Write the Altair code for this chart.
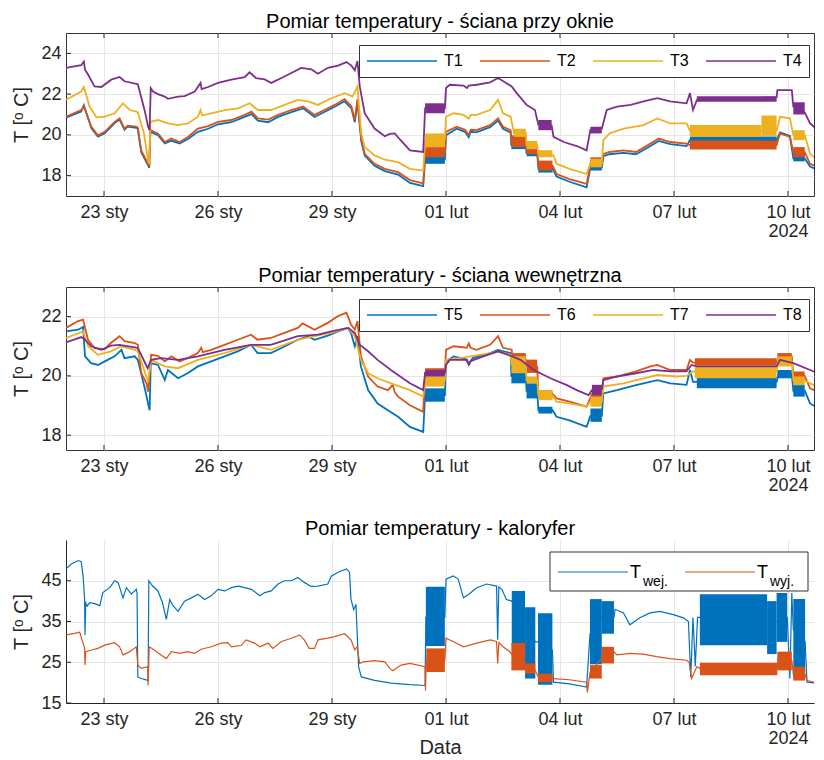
import altair as alt
import pandas as pd

FONT = "Liberation Sans"
TXT = "#262626"
GRID = "#e6e6e6"
BASE = pd.Timestamp("2024-01-22")

# ---------------- categories / colours ----------------
SERIES_1 = ["T1", "T2", "T3", "T4"]
SERIES_2 = ["T5", "T6", "T7", "T8"]
SERIES_3 = ["Twej", "Twyj"]
COLORS_4 = ["#0072BD", "#D95319", "#EDB120", "#7E2F8E"]
COLORS_2 = ["#0072BD", "#D95319"]

TITLES = ["Pomiar temperatury - ściana przy oknie",
          "Pomiar temperatury - ściana wewnętrzna",
          "Pomiar temperatury - kaloryfer"]
X_TICKS = [(1, 23), (1, 26), (1, 29), (2, 1), (2, 4), (2, 7), (2, 10)]
Y_TICKS_1 = [18, 20, 22, 24]
Y_TICKS_2 = [18, 20, 22]
Y_TICKS_3 = [15, 25, 35, 45]
Y_DOM_1 = [17, 25]
Y_DOM_2 = [17.5, 23]
Y_DOM_3 = [15, 55]

# ---------------- data: (days since 22 Jan 2024, value) ----------------
T1 = [(0.00, 20.85), (0.40, 21.15), (0.47, 21.45), (0.67, 20.32), (0.84, 19.92), (1.02, 20.08), (1.28, 20.58),
      (1.41, 20.75), (1.54, 20.25), (1.62, 20.40), (1.85, 20.35), (1.89, 20.30), (1.98, 19.15), (2.16, 18.50),
      (2.19, 18.38), (2.22, 20.15), (2.42, 19.98), (2.60, 19.58), (2.77, 19.72), (2.99, 19.58), (3.21, 19.80),
      (3.47, 20.15), (3.74, 20.30), (4.00, 20.52), (4.35, 20.62), (4.70, 20.88), (4.88, 21.02), (5.05, 20.70),
      (5.32, 20.62), (5.58, 20.88), (5.93, 21.12), (6.24, 21.30), (6.54, 20.88), (6.80, 21.12), (7.07, 21.38),
      (7.33, 21.65), (7.51, 21.30), (7.60, 20.62), (7.67, 21.62), (7.77, 19.70), (7.86, 18.98), (8.12, 18.48),
      (8.39, 18.22), (8.74, 18.05), (9.05, 17.64), (9.40, 17.49), (9.45, 18.80), (9.97, 18.80), (10.00, 19.98),
      (10.28, 20.30), (10.50, 20.15), (10.60, 19.88), (10.65, 20.15), (10.80, 20.12), (11.16, 20.38),
      (11.37, 20.70), (11.50, 20.30), (11.70, 20.12), (11.72, 19.50), (12.10, 19.50), (12.12, 19.10),
      (12.40, 19.10), (12.43, 18.35), (12.80, 18.35), (12.91, 17.95), (13.25, 17.70), (13.70, 17.42),
      (13.80, 18.40), (14.10, 18.40), (14.14, 18.95), (14.30, 19.05), (14.67, 19.12), (15.00, 19.05),
      (15.38, 19.45), (15.60, 19.70), (15.90, 19.55), (16.33, 19.45), (16.42, 19.75), (18.70, 19.75),
      (18.79, 20.12), (19.05, 19.95), (19.14, 18.85), (19.44, 18.85), (19.58, 18.45), (19.90, 18.18)]
T2 = [(0.00, 20.89), (0.40, 21.22), (0.47, 21.39), (0.67, 20.40), (0.84, 19.98), (1.02, 20.15), (1.28, 20.64),
      (1.41, 20.81), (1.54, 20.31), (1.62, 20.45), (1.85, 20.40), (1.89, 20.35), (1.98, 19.24), (2.16, 18.58),
      (2.19, 18.45), (2.22, 20.23), (2.42, 20.07), (2.60, 19.65), (2.77, 19.82), (2.99, 19.65), (3.21, 19.90),
      (3.47, 20.31), (3.74, 20.43), (4.00, 20.64), (4.35, 20.73), (4.70, 20.98), (4.88, 21.14), (5.05, 20.81),
      (5.32, 20.75), (5.58, 20.98), (5.93, 21.22), (6.24, 21.39), (6.54, 20.98), (6.80, 21.22), (7.07, 21.47),
      (7.33, 21.75), (7.51, 21.39), (7.60, 20.73), (7.67, 21.75), (7.77, 19.80), (7.86, 19.07), (8.12, 18.58),
      (8.39, 18.33), (8.74, 18.17), (9.05, 17.78), (9.40, 17.62), (9.45, 19.15), (9.97, 19.15), (10.00, 20.15),
      (10.28, 20.40), (10.50, 20.25), (10.60, 19.98), (10.65, 20.25), (10.80, 20.23), (11.16, 20.48),
      (11.37, 20.81), (11.50, 20.40), (11.70, 20.23), (11.72, 19.70), (12.10, 19.70), (12.12, 19.25),
      (12.40, 19.25), (12.43, 18.50), (12.80, 18.50), (12.91, 18.08), (13.25, 17.83), (13.70, 17.59),
      (13.80, 18.55), (14.10, 18.55), (14.14, 19.07), (14.30, 19.16), (14.67, 19.24), (15.00, 19.16),
      (15.38, 19.57), (15.60, 19.82), (15.90, 19.65), (16.33, 19.57), (16.42, 19.50), (18.70, 19.50),
      (18.79, 20.07), (19.05, 19.90), (19.14, 19.15), (19.44, 19.15), (19.58, 18.58), (19.90, 18.33)]
T3 = [(0.00, 21.72), (0.40, 22.13), (0.47, 22.35), (0.62, 21.39), (0.80, 20.86), (1.02, 20.90), (1.28, 21.06),
      (1.50, 21.55), (1.68, 21.22), (1.85, 21.14), (1.89, 21.10), (2.05, 20.10), (2.16, 18.74), (2.19, 18.58),
      (2.22, 20.64), (2.42, 20.73), (2.68, 20.56), (2.95, 20.48), (3.21, 20.56), (3.47, 20.89), (3.54, 21.22),
      (3.58, 20.95), (3.82, 21.06), (4.18, 21.22), (4.53, 21.30), (4.83, 21.55), (5.05, 21.22), (5.40, 21.22),
      (5.75, 21.47), (6.10, 21.72), (6.37, 21.64), (6.63, 21.47), (6.98, 21.80), (7.33, 22.05), (7.54, 21.88),
      (7.67, 22.38), (7.77, 20.07), (7.86, 19.40), (8.12, 18.99), (8.39, 18.78), (8.74, 18.66), (9.05, 18.33),
      (9.40, 18.25), (9.45, 19.70), (9.97, 19.75), (10.00, 20.89), (10.20, 21.06), (10.46, 20.98),
      (10.60, 20.80), (10.65, 20.98), (10.80, 20.98), (11.16, 21.22), (11.37, 21.72), (11.50, 21.06),
      (11.70, 20.89), (11.79, 20.10), (12.10, 20.10), (12.12, 19.50), (12.40, 19.50), (12.43, 19.07),
      (12.83, 19.00), (12.91, 18.58), (13.25, 18.33), (13.70, 18.08), (13.80, 18.60), (14.10, 18.60),
      (14.14, 19.74), (14.30, 20.07), (14.67, 20.31), (15.20, 20.48), (15.56, 20.81), (15.90, 20.56),
      (16.33, 20.56), (16.42, 20.20), (18.70, 20.20), (18.79, 20.89), (19.05, 20.81), (19.14, 20.00),
      (19.44, 20.00), (19.58, 19.07), (19.90, 18.58)]
T4 = [(0.00, 23.29), (0.40, 23.42), (0.47, 23.60), (0.50, 23.20), (0.58, 22.96), (0.75, 22.38), (0.93, 22.35),
      (1.19, 22.71), (1.41, 22.84), (1.54, 22.63), (1.85, 22.50), (1.89, 22.48), (2.07, 21.20), (2.16, 20.40),
      (2.20, 20.23), (2.23, 22.30), (2.29, 22.13), (2.42, 22.00), (2.60, 21.88), (2.68, 21.77), (2.95, 21.88),
      (3.12, 21.90), (3.39, 22.13), (3.54, 22.55), (3.57, 22.25), (3.74, 22.35), (4.00, 22.55), (4.35, 22.71),
      (4.70, 22.83), (4.83, 23.07), (5.00, 22.79), (5.23, 22.72), (5.40, 22.55), (5.67, 22.79), (5.93, 23.04),
      (6.19, 23.29), (6.46, 23.21), (6.63, 23.00), (6.89, 23.29), (7.16, 23.40), (7.38, 23.57), (7.51, 23.40),
      (7.60, 23.17), (7.67, 23.62), (7.73, 22.38), (7.86, 21.06), (8.12, 20.31), (8.39, 19.93), (8.52, 20.05),
      (8.65, 20.07), (8.80, 19.75), (9.05, 19.24), (9.40, 19.16), (9.45, 21.30), (9.97, 21.30), (10.00, 22.30),
      (10.10, 22.46), (10.46, 22.42), (10.55, 22.30), (10.60, 22.42), (10.81, 22.46), (11.16, 22.58),
      (11.37, 22.79), (11.58, 22.55), (11.73, 22.38), (11.86, 22.05), (12.12, 21.47), (12.34, 21.22),
      (12.43, 20.50), (12.78, 20.45), (12.83, 19.90), (13.10, 19.65), (13.46, 19.44), (13.70, 19.24),
      (13.80, 20.25), (14.10, 20.30), (14.23, 21.22), (14.50, 21.39), (14.86, 21.47), (15.20, 21.64),
      (15.56, 21.80), (15.90, 21.64), (16.33, 21.55), (16.42, 22.05), (16.50, 21.22), (16.60, 21.70),
      (17.20, 21.76), (17.82, 21.80), (18.70, 21.85), (18.72, 22.20), (19.10, 22.20), (19.14, 21.39),
      (19.44, 21.10), (19.58, 20.56), (19.90, 20.07)]

T5 = [(0.00, 21.50), (0.32, 21.56), (0.45, 21.65), (0.50, 20.66), (0.66, 20.43), (0.84, 20.37), (1.02, 20.49),
      (1.28, 20.66), (1.46, 20.88), (1.54, 20.60), (1.81, 20.66), (1.89, 20.54), (2.07, 19.60), (2.16, 19.07),
      (2.20, 18.84), (2.23, 20.43), (2.42, 20.37), (2.60, 19.86), (2.68, 20.20), (2.95, 19.92), (3.20, 20.09),
      (3.47, 20.32), (3.82, 20.49), (4.17, 20.66), (4.52, 20.83), (4.87, 21.05), (5.04, 20.77), (5.39, 20.77),
      (5.67, 20.94), (6.10, 21.22), (6.37, 21.34), (6.54, 21.22), (6.89, 21.36), (7.16, 21.50), (7.42, 21.62),
      (7.50, 21.45), (7.60, 21.00), (7.67, 21.34), (7.76, 20.32), (7.95, 19.52), (8.20, 19.07), (8.47, 18.84),
      (8.74, 18.62), (9.05, 18.28), (9.40, 18.11), (9.45, 19.35), (9.97, 19.35), (10.00, 20.49), (10.20, 20.66),
      (10.55, 20.55), (10.60, 20.40), (10.70, 20.60), (11.16, 20.77), (11.37, 20.88), (11.70, 20.77),
      (11.72, 20.00), (12.10, 20.00), (12.12, 19.50), (12.40, 19.50), (12.43, 18.85), (12.80, 18.85),
      (12.91, 18.62), (13.25, 18.50), (13.70, 18.28), (13.80, 18.65), (14.10, 18.65), (14.14, 19.41),
      (14.50, 19.52), (15.00, 19.69), (15.56, 19.86), (15.90, 19.75), (16.33, 19.70), (16.42, 20.20),
      (16.50, 19.80), (18.70, 19.80), (18.75, 20.05), (19.10, 20.05), (19.14, 19.50), (19.44, 19.50),
      (19.58, 19.07), (19.90, 18.84)]
T6 = [(0.00, 21.62), (0.32, 21.85), (0.45, 21.90), (0.58, 21.22), (0.75, 20.94), (1.02, 20.90), (1.18, 21.11),
      (1.41, 21.34), (1.54, 21.17), (1.81, 21.11), (1.89, 21.05), (1.98, 20.09), (2.12, 19.75), (2.16, 19.47),
      (2.24, 20.71), (2.42, 20.68), (2.60, 20.49), (2.77, 20.66), (2.99, 20.49), (3.20, 20.60), (3.47, 20.77),
      (3.56, 20.95), (3.60, 20.80), (3.82, 20.88), (4.17, 21.05), (4.52, 21.22), (4.87, 21.39), (5.04, 21.22),
      (5.39, 21.28), (5.75, 21.45), (6.10, 21.62), (6.23, 21.77), (6.54, 21.56), (6.89, 21.79), (7.16, 22.02),
      (7.38, 22.13), (7.50, 21.73), (7.60, 21.56), (7.67, 21.85), (7.76, 20.66), (7.95, 19.98), (8.20, 19.64),
      (8.47, 19.52), (8.60, 19.70), (8.65, 19.45), (8.74, 19.30), (9.05, 19.01), (9.40, 18.79), (9.45, 20.10),
      (9.97, 20.10), (10.00, 20.88), (10.20, 21.00), (10.55, 20.95), (10.60, 21.10), (10.65, 20.95),
      (10.80, 20.88), (11.16, 21.05), (11.37, 21.34), (11.50, 20.95), (11.73, 20.88), (11.75, 20.55),
      (12.10, 20.55), (12.12, 20.30), (12.40, 20.30), (12.43, 19.40), (12.80, 19.40), (12.91, 19.24),
      (13.25, 19.13), (13.70, 18.96), (13.80, 19.27), (14.10, 19.27), (14.14, 19.92), (14.50, 19.98),
      (15.00, 20.15), (15.38, 20.32), (15.56, 20.37), (15.90, 20.20), (16.33, 20.20), (16.42, 20.54),
      (16.50, 20.45), (18.70, 20.45), (18.75, 20.65), (19.10, 20.65), (19.14, 20.00), (19.44, 20.00),
      (19.58, 19.58), (19.90, 19.41)]
T7 = [(0.00, 21.28), (0.45, 21.50), (0.58, 21.00), (0.84, 20.71), (1.18, 20.83), (1.46, 21.00), (1.81, 20.88),
      (1.89, 20.83), (2.16, 19.80), (2.24, 20.54), (2.60, 20.32), (2.95, 20.26), (3.47, 20.54), (4.17, 20.77),
      (4.87, 21.05), (5.39, 20.88), (6.10, 21.22), (6.54, 21.34), (6.98, 21.45), (7.42, 21.62), (7.60, 21.34),
      (7.76, 20.54), (7.95, 20.09), (8.20, 19.92), (8.55, 19.75), (9.05, 19.52), (9.40, 19.30), (9.45, 19.85),
      (9.97, 19.85), (10.00, 20.54), (10.36, 20.60), (11.16, 20.77), (11.37, 20.83), (11.70, 20.71),
      (11.72, 20.40), (12.10, 20.40), (12.12, 19.85), (12.40, 19.85), (12.43, 19.35), (12.80, 19.35),
      (12.91, 19.13), (13.25, 19.07), (13.70, 18.96), (13.80, 19.13), (14.10, 19.13), (14.14, 19.64),
      (14.67, 19.75), (15.20, 19.92), (15.56, 20.03), (16.07, 19.98), (16.33, 20.00), (16.50, 20.15),
      (18.70, 20.15), (18.75, 20.50), (19.10, 20.50), (19.14, 19.85), (19.44, 19.85), (19.58, 19.75),
      (19.90, 19.58)]
T8 = [(0.00, 21.13), (0.40, 21.31), (0.50, 21.22), (0.66, 21.00), (0.93, 20.88), (1.18, 21.02), (1.41, 21.05),
      (1.81, 20.96), (1.89, 20.94), (2.15, 20.26), (2.24, 20.54), (2.50, 20.60), (2.95, 20.54), (3.47, 20.66),
      (4.17, 20.88), (4.87, 21.05), (5.39, 21.05), (6.10, 21.34), (6.63, 21.39), (6.98, 21.50), (7.42, 21.62),
      (7.60, 21.45), (7.73, 21.05), (7.95, 20.83), (8.20, 20.54), (8.55, 20.20), (9.05, 19.75), (9.40, 19.52),
      (9.45, 20.10), (9.97, 20.10), (10.00, 20.37), (10.10, 20.54), (10.54, 20.54), (10.60, 20.37),
      (10.65, 20.50), (10.98, 20.66), (11.37, 20.83), (11.70, 20.68), (11.96, 20.54), (12.31, 20.20),
      (12.75, 19.92), (13.18, 19.69), (13.44, 19.52), (13.75, 19.35), (13.84, 19.52), (14.10, 19.55),
      (14.14, 19.86), (14.50, 19.98), (15.00, 20.09), (15.46, 20.20), (15.90, 20.15), (16.33, 20.15),
      (16.46, 20.37), (16.60, 20.32), (18.70, 20.32), (18.79, 20.54), (19.14, 20.43), (19.58, 20.20),
      (19.90, 20.03)]

TWEJ = [(0.00, 47.9), (0.14, 49.1), (0.32, 49.96), (0.40, 49.7), (0.45, 46.2), (0.49, 40.4), (0.50, 31.7),
        (0.52, 39.5), (0.56, 38.8), (0.62, 39.6), (0.75, 39.4), (0.89, 38.9), (0.97, 42.1), (1.15, 43.3),
        (1.28, 45.0), (1.37, 44.6), (1.50, 40.8), (1.59, 43.3), (1.72, 41.7), (1.85, 42.9), (1.87, 42.0),
        (1.89, 21.4), (1.98, 21.0), (2.16, 20.55), (2.18, 45.0), (2.28, 43.7), (2.42, 42.5), (2.54, 39.6),
        (2.64, 35.5), (2.73, 40.4), (2.82, 38.8), (2.95, 37.5), (3.12, 40.0), (3.30, 40.8), (3.47, 41.7),
        (3.65, 40.4), (3.82, 41.3), (4.00, 42.9), (4.18, 42.5), (4.35, 43.3), (4.53, 43.7), (4.70, 43.3),
        (4.88, 42.9), (5.10, 41.3), (5.23, 42.1), (5.40, 42.5), (5.58, 44.2), (5.75, 45.0), (5.93, 45.0),
        (6.10, 45.8), (6.27, 44.6), (6.45, 43.6), (6.63, 43.7), (6.89, 44.2), (6.98, 46.1), (7.16, 47.1),
        (7.38, 47.9), (7.46, 47.1), (7.50, 40.4), (7.57, 37.9), (7.63, 39.2), (7.70, 23.9), (7.77, 21.4),
        (8.12, 20.55), (8.56, 19.9), (9.05, 19.5), (9.45, 19.3), (9.47, 36.0), (9.97, 36.0), (10.00, 45.4),
        (10.19, 46.2), (10.32, 45.4), (10.46, 40.8), (10.60, 41.7), (10.81, 43.3), (11.07, 44.2),
        (11.33, 43.7), (11.36, 30.5), (11.39, 43.5), (11.47, 42.9), (11.59, 40.4), (11.73, 40.0),
        (12.08, 35.0), (12.35, 30.0), (12.42, 30.0), (12.80, 28.0), (12.83, 20.1), (13.25, 19.7),
        (13.70, 18.9), (13.79, 32.0), (14.10, 36.0), (14.42, 36.0), (14.45, 38.0), (14.67, 37.1),
        (14.84, 34.2), (15.10, 35.9), (15.37, 37.1), (15.63, 37.5), (15.98, 36.7), (16.25, 35.9),
        (16.38, 35.0), (16.44, 21.4), (16.50, 36.0), (16.56, 24.0), (16.62, 36.0), (16.68, 36.0),
        (18.45, 35.0), (18.70, 35.0), (18.98, 36.0), (19.05, 21.0), (19.10, 42.0), (19.14, 33.0),
        (19.45, 30.0), (19.50, 20.1), (19.90, 19.7)]
TWYJ = [(0.00, 31.7), (0.22, 32.1), (0.36, 32.4), (0.45, 29.7), (0.49, 28.5), (0.50, 24.3), (0.52, 27.6),
        (0.67, 28.0), (0.84, 28.4), (1.02, 29.2), (1.28, 29.8), (1.41, 28.8), (1.50, 26.8), (1.68, 27.6),
        (1.85, 28.8), (1.89, 24.3), (1.98, 23.5), (2.15, 23.9), (2.16, 19.3), (2.19, 28.8), (2.32, 28.0),
        (2.50, 26.8), (2.64, 25.9), (2.77, 27.6), (2.99, 27.2), (3.20, 27.6), (3.38, 27.2), (3.56, 28.2),
        (3.82, 28.8), (4.09, 29.7), (4.26, 29.8), (4.35, 28.8), (4.61, 29.1), (4.74, 30.5), (4.96, 29.7),
        (5.10, 28.8), (5.32, 29.7), (5.44, 28.4), (5.67, 30.1), (5.93, 30.9), (6.15, 31.7), (6.27, 30.5),
        (6.40, 28.4), (6.54, 28.4), (6.63, 30.5), (6.89, 30.9), (7.07, 31.3), (7.33, 32.0), (7.50, 30.5),
        (7.60, 28.0), (7.66, 28.8), (7.73, 24.7), (7.82, 25.1), (8.12, 25.4), (8.39, 25.1), (8.52, 23.5),
        (8.60, 22.9), (8.70, 23.6), (8.82, 24.3), (9.05, 24.7), (9.45, 23.9), (9.46, 18.1), (9.48, 25.5),
        (9.97, 25.5), (10.00, 30.9), (10.19, 30.1), (10.46, 28.8), (10.81, 29.7), (11.16, 30.5),
        (11.33, 30.1), (11.36, 24.7), (11.39, 29.8), (11.50, 28.8), (11.68, 27.6), (11.72, 27.0),
        (12.08, 24.0), (12.35, 23.0), (12.42, 21.5), (12.80, 21.2), (12.83, 21.0), (13.25, 20.7),
        (13.70, 20.1), (13.72, 17.6), (13.79, 22.5), (14.10, 26.0), (14.42, 27.5), (14.50, 26.8),
        (14.84, 27.2), (15.19, 27.0), (15.54, 26.4), (15.89, 25.9), (16.33, 25.5), (16.40, 25.0),
        (16.46, 21.0), (16.60, 23.9), (16.68, 23.5), (18.72, 23.5), (18.75, 27.2), (19.10, 25.5),
        (19.14, 22.0), (19.45, 22.0), (19.50, 20.5), (19.90, 19.7)]

# oscillation bands: (start day, end day, low, high)
BANDS_T1 = [(9.45, 9.97, 18.58, 19.07), (11.72, 12.10, 19.30, 19.75), (12.12, 12.40, 18.95, 19.30),
            (12.43, 12.80, 18.15, 18.55), (13.80, 14.10, 18.25, 18.75), (16.42, 18.70, 19.60, 19.92),
            (19.14, 19.44, 18.70, 19.15)]
BANDS_T2 = [(9.45, 9.97, 18.90, 19.40), (11.72, 12.10, 19.40, 19.98), (12.12, 12.40, 19.05, 19.40),
            (12.43, 12.80, 18.25, 18.74), (13.80, 14.10, 18.41, 18.90), (16.42, 18.70, 19.28, 19.72),
            (19.14, 19.44, 18.90, 19.40)]
BANDS_T3 = [(9.45, 9.97, 19.40, 20.07), (11.79, 12.10, 19.90, 20.30), (12.12, 12.40, 19.30, 19.70),
            (12.43, 12.80, 18.90, 19.25), (13.80, 14.10, 18.41, 18.83), (16.42, 18.30, 19.90, 20.48),
            (18.30, 18.70, 19.95, 20.95), (19.14, 19.44, 19.74, 20.23)]
BANDS_T4 = [(9.45, 9.97, 21.06, 21.55), (12.43, 12.78, 20.23, 20.73), (13.80, 14.10, 20.07, 20.40),
            (16.60, 18.70, 21.62, 21.90), (19.14, 19.44, 21.00, 21.60)]
BANDS_T5 = [(9.45, 9.97, 19.13, 19.58), (11.72, 12.10, 19.75, 20.26), (12.12, 12.40, 19.24, 19.75),
            (12.43, 12.80, 18.73, 18.96), (13.80, 14.10, 18.45, 18.90), (16.60, 18.70, 19.58, 19.98),
            (18.72, 19.10, 19.92, 20.20), (19.14, 19.44, 19.30, 19.69)]
BANDS_T6 = [(9.45, 9.97, 19.92, 20.26), (11.75, 12.10, 20.37, 20.77), (12.12, 12.40, 20.10, 20.55),
            (12.43, 12.80, 19.24, 19.52), (13.80, 14.10, 19.13, 19.41), (16.55, 18.70, 20.32, 20.60),
            (18.72, 19.10, 20.54, 20.77), (19.14, 19.44, 19.81, 20.15)]
BANDS_T7 = [(9.45, 9.97, 19.64, 20.09), (11.72, 12.10, 20.09, 20.66), (12.12, 12.40, 19.75, 19.98),
            (12.43, 12.80, 19.18, 19.52), (13.80, 14.10, 18.96, 19.30), (16.55, 18.70, 19.92, 20.37),
            (18.72, 19.10, 20.32, 20.66), (19.14, 19.44, 19.69, 19.98)]
BANDS_T8 = [(9.45, 9.97, 19.98, 20.20), (13.84, 14.10, 19.35, 19.70)]
BANDS_TWEJ = [(9.47, 9.97, 29.0, 43.5), (11.73, 12.08, 29.0, 42.5), (12.08, 12.35, 21.0, 38.5),
              (12.42, 12.80, 19.5, 37.0), (13.79, 14.10, 24.5, 40.5), (14.10, 14.42, 32.0, 40.0),
              (16.68, 18.45, 29.2, 41.7), (18.45, 18.70, 27.0, 40.0), (18.70, 18.98, 30.0, 42.0),
              (19.14, 19.45, 21.0, 40.5)]
BANDS_TWYJ = [(9.48, 9.97, 22.6, 28.4), (11.72, 12.08, 23.0, 29.7), (12.08, 12.35, 22.2, 24.7),
              (12.42, 12.80, 20.1, 22.2), (13.79, 14.10, 21.0, 24.3), (14.10, 14.42, 24.7, 28.8),
              (16.68, 18.72, 21.8, 24.9), (18.72, 19.10, 23.0, 27.6), (19.14, 19.45, 20.5, 23.9)]

DATA = {"T1": T1, "T2": T2, "T3": T3, "T4": T4, "T5": T5, "T6": T6, "T7": T7, "T8": T8,
        "Twej": TWEJ, "Twyj": TWYJ}
BANDS = {"T1": BANDS_T1, "T2": BANDS_T2, "T3": BANDS_T3, "T4": BANDS_T4, "T5": BANDS_T5,
         "T6": BANDS_T6, "T7": BANDS_T7, "T8": BANDS_T8, "Twej": BANDS_TWEJ, "Twyj": BANDS_TWYJ}


def ts(d):
    return (BASE + pd.to_timedelta(d, unit="D")).strftime("%Y-%m-%dT%H:%M:%S")


def line_frame(name):
    pts = DATA[name]
    return pd.DataFrame({"s": name, "t": [ts(d) for d, _ in pts], "v": [v for _, v in pts],
                         "i": list(range(len(pts)))})


def band_frame(name):
    b = BANDS[name]
    return pd.DataFrame({"t": [ts(x[0]) for x in b], "t2": [ts(x[1]) for x in b],
                         "lo": [x[2] for x in b], "hi": [x[3] for x in b]})


W, H = 748, 163
XSCALE = alt.Scale(domain=[alt.DateTime(year=2024, month=1, date=22),
                           alt.DateTime(year=2024, month=2, date=10, hours=16, minutes=25)], nice=False)
XVALS = [alt.DateTime(year=2024, month=m, date=d) for m, d in X_TICKS]
XTICK_STR = [f"2024-{m:02d}-{d:02d}T00:00:00" for m, d in X_TICKS]
LABEL_EXPR = ("month(datum.value) == 1 && date(datum.value) == 10 ? ['10 lut', '2024'] : "
              "timeFormat(datum.value, '%d') + (month(datum.value) == 0 ? ' sty' : ' lut')")


def make_panel(idx, names, colors, ydom, yvals, lw, boxed, xtitle):
    xkw = dict(values=XVALS, labelExpr=LABEL_EXPR, grid=True, gridColor=GRID, ticks=False,
               domain=not boxed, domainColor=TXT, labelFont=FONT, labelFontSize=18, labelColor=TXT,
               labelPadding=7, labelLineHeight=19, labelOverlap=False, labelBound=False)
    if xtitle:
        xax = alt.Axis(title=xtitle, titleFont=FONT, titleFontSize=20, titleFontWeight="normal",
                       titleColor=TXT, titleY=50, titleBaseline="alphabetic", **xkw)
    else:
        xax = alt.Axis(title=None, **xkw)
    yax = alt.Axis(values=yvals, grid=True, gridColor=GRID, ticks=False, domain=not boxed, domainColor=TXT,
                   labelFont=FONT, labelFontSize=18, labelColor=TXT, labelPadding=5,
                   title="T [ᵒ C]", titleFont=FONT, titleFontSize=20, titleFontWeight="normal",
                   titleColor=TXT, titlePadding=9)
    yscale = alt.Scale(domain=ydom, nice=False, zero=False)
    X = alt.X("t:T", scale=XSCALE, axis=xax)
    layers = []
    for name, col in zip(names, colors):
        enc = dict(x=X, y=alt.Y("v:Q", scale=yscale, axis=yax), order=alt.Order("i:Q"))
        if boxed:
            enc["color"] = alt.Color("s:N", scale=alt.Scale(domain=names, range=colors),
                                     legend=alt.Legend(orient="none", legendX=293, legendY=12,
                                                       direction="horizontal", columns=4,
                                                       symbolType="stroke", symbolSize=4900,
                                                       symbolStrokeWidth=1.5, clipHeight=18,
                                                       labelFont=FONT, labelFontSize=16, labelColor="black",
                                                       labelOffset=6, columnPadding=16, padding=7,
                                                       strokeColor="#333333", fillColor="white",
                                                       title=None))
            line = alt.Chart(line_frame(name)).mark_line(strokeWidth=lw, clip=True).encode(**enc)
        else:
            line = alt.Chart(line_frame(name)).mark_line(strokeWidth=lw, clip=True, color=col).encode(**enc)
        layers.append(line)
        layers.append(alt.Chart(band_frame(name)).mark_rect(color=col, clip=True).encode(
            x=X, x2="t2:T", y=alt.Y("lo:Q", scale=yscale, axis=yax), y2="hi:Q"))
    # inward tick marks
    xt = pd.DataFrame({"t": XTICK_STR})
    yt = pd.DataFrame({"v": yvals})
    layers.append(alt.Chart(xt).mark_rule(color=TXT, strokeWidth=1).encode(
        x=X, y=alt.value(H), y2=alt.value(H - 5)))
    layers.append(alt.Chart(yt).mark_rule(color=TXT, strokeWidth=1).encode(
        y=alt.Y("v:Q", scale=yscale, axis=yax), x=alt.value(0), x2=alt.value(5)))
    if boxed:
        layers.append(alt.Chart(xt).mark_rule(color=TXT, strokeWidth=1).encode(
            x=X, y=alt.value(0), y2=alt.value(5)))
    else:
        one = pd.DataFrame({"a": [0]})
        layers += [
            alt.Chart(one).mark_rect(fill="white", stroke="#333333", strokeWidth=1).encode(
                x=alt.value(484), x2=alt.value(742), y=alt.value(12), y2=alt.value(51)),
            alt.Chart(one).mark_rule(color=colors[0], strokeWidth=1).encode(
                x=alt.value(492), x2=alt.value(562), y=alt.value(32)),
            alt.Chart(one).mark_rule(color=colors[1], strokeWidth=1).encode(
                x=alt.value(619), x2=alt.value(689), y=alt.value(32)),
            alt.Chart(one).mark_text(text="T", font=FONT, fontSize=18, align="left", baseline="alphabetic",
                                     color="black").encode(x=alt.value(564), y=alt.value(38)),
            alt.Chart(one).mark_text(text="wej.", font=FONT, fontSize=14, align="left", baseline="alphabetic",
                                     color="black").encode(x=alt.value(577), y=alt.value(46)),
            alt.Chart(one).mark_text(text="T", font=FONT, fontSize=18, align="left", baseline="alphabetic",
                                     color="black").encode(x=alt.value(691), y=alt.value(38)),
            alt.Chart(one).mark_text(text="wyj.", font=FONT, fontSize=14, align="left", baseline="alphabetic",
                                     color="black").encode(x=alt.value(704), y=alt.value(46)),
        ]
    p = alt.layer(*layers).properties(
        width=W, height=H,
        title=alt.TitleParams(text=TITLES[idx], font=FONT, fontSize=20, fontWeight="normal",
                              color="black", offset=1, anchor="middle"))
    if not boxed:
        p = p.properties(view=alt.ViewBackground(strokeOpacity=0))
    return p


p1 = make_panel(0, SERIES_1, COLORS_4, Y_DOM_1, Y_TICKS_1, 1.8, True, None)
p2 = make_panel(1, SERIES_2, COLORS_4, Y_DOM_2, Y_TICKS_2, 1.8, True, None)
p3 = make_panel(2, SERIES_3, COLORS_2, Y_DOM_3, Y_TICKS_3, 1.2, False, "Data")

chart = alt.vconcat(p1, p2, p3, spacing=24).resolve_scale(color="independent").properties(
    padding={"left": 3, "top": 3, "right": 0, "bottom": 0}
).configure_view(stroke="#333333", strokeWidth=1)

chart.save("out.html", embed_options={"renderer": "svg", "actions": False})
